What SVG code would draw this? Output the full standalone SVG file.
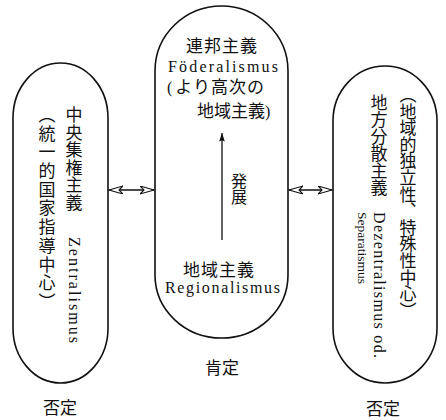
<svg xmlns="http://www.w3.org/2000/svg" width="446" height="420" viewBox="0 0 446 420">
<style>
.shape{fill:none;stroke:#111;stroke-width:1.6}
.cjk{font-family:"Noto Sans CJK JP","Noto Sans CJK SC",sans-serif;font-size:17px;fill:#111}
.lat{font-family:"Liberation Serif",serif;font-size:16px;fill:#111}
.vert{writing-mode:vertical-rl}
.conn{stroke:#111;stroke-width:1.3;fill:none}
</style>
<defs>
<marker id="hollow" markerUnits="userSpaceOnUse" markerWidth="16" markerHeight="10" refX="14" refY="4" orient="auto-start-reverse" viewBox="0 0 16 10">
<path d="M0,0 L14,4 L0,8 L4,4 Z" fill="#fff" stroke="#111" stroke-width="1.1"/>
</marker>
<marker id="solid" markerUnits="userSpaceOnUse" markerWidth="10" markerHeight="14" refX="12" refY="4" orient="auto" viewBox="0 0 14 8">
<path d="M0,0 L12,4 L0,8 L2,4 Z" fill="#111"/>
</marker>
</defs>

<g id="connectors">
<line class="conn" x1="109" y1="190" x2="154" y2="190" marker-start="url(#hollow)" marker-end="url(#hollow)"/>
<line class="conn" x1="289" y1="190" x2="332" y2="190" marker-start="url(#hollow)" marker-end="url(#hollow)"/>
<line class="conn" x1="222" y1="240" x2="222" y2="133" marker-end="url(#solid)"/>
<text class="cjk vert" x="239" y="173" style="font-size:16px">発展</text>
</g>

<g id="node-zentralismus">
<path class="shape" d="M13,118 A47.5,55 0 0 1 108,118 L108,328 A47.5,55 0 0 1 13,328 Z"/>
<text class="cjk vert" x="74" y="106" letter-spacing="0.6">中央集権主義</text>
<text class="lat" transform="translate(74,237) rotate(90)" dominant-baseline="central" textLength="106" lengthAdjust="spacing">Zentralismus</text>
<text class="cjk vert" x="47" y="106" letter-spacing="1.7">（統一的国家指導中心）</text>
<text class="cjk" x="60" y="414" text-anchor="middle">否定</text>
</g>

<g id="node-foederalismus">
<path class="shape" d="M155,71 A66.5,65 0 0 1 288,71 L288,275 A66.5,63 0 0 1 155,275 Z"/>
<text class="cjk" x="222" y="52" text-anchor="middle" letter-spacing="1">連邦主義</text>
<text class="lat" x="168" y="72" textLength="110" lengthAdjust="spacing">Föderalismus</text>
<text class="cjk" x="167" y="93"><tspan class="lat">(</tspan><tspan dx="3" letter-spacing="1">より高次の</tspan></text>
<text class="cjk" x="197" y="117">地域主義<tspan class="lat">)</tspan></text>
<text class="cjk" x="219" y="276" text-anchor="middle" letter-spacing="1">地域主義</text>
<text class="lat" x="165" y="293" textLength="115" lengthAdjust="spacing">Regionalismus</text>
<text class="cjk" x="222" y="374" text-anchor="middle">肯定</text>
</g>

<g id="node-dezentralismus">
<path class="shape" d="M333,121 A52,55 0 0 1 437,121 L437,328 A52,55 0 0 1 333,328 Z"/>
<text class="cjk vert" x="408" y="86" letter-spacing="-0.4">（地域的独立性、特殊性中心）</text>
<text class="cjk vert" x="379" y="94">地方分散主義</text>
<text class="lat" transform="translate(379,212) rotate(90)" dominant-baseline="central" textLength="146" lengthAdjust="spacing">Dezentralismus od.</text>
<text class="lat" transform="translate(362,212) rotate(90)" dominant-baseline="central" style="font-size:13.5px">Separatismus</text>
<text class="cjk" x="383" y="415" text-anchor="middle">否定</text>
</g>
</svg>
